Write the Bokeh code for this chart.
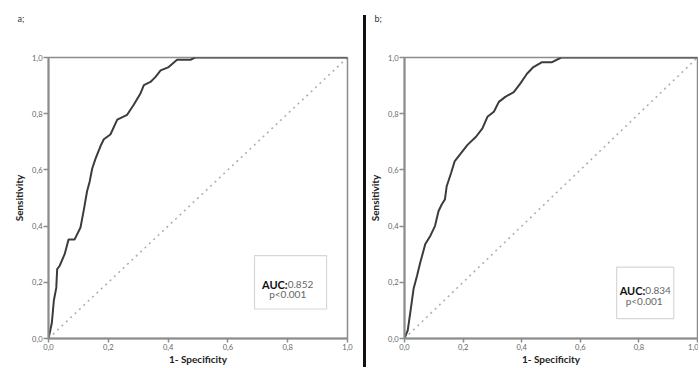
from bokeh.plotting import figure
from bokeh.layouts import row
from bokeh.models import FixedTicker, Label, BoxAnnotation, Div, Range1d, Title
from bokeh.embed import file_html
from bokeh.resources import INLINE

# ---- data ----
FPR_A = [0, 0.011, 0.018, 0.026, 0.029, 0.037, 0.054, 0.067, 0.087, 0.107, 0.118,
         0.129, 0.138, 0.146, 0.157, 0.174, 0.185, 0.207, 0.23, 0.263, 0.285, 0.308,
         0.319, 0.341, 0.358, 0.375, 0.402, 0.43, 0.475, 0.49, 1.0]
TPR_A = [0, 0.054, 0.136, 0.18, 0.247, 0.258, 0.3, 0.352, 0.352, 0.395, 0.457,
         0.524, 0.56, 0.604, 0.639, 0.685, 0.709, 0.726, 0.779, 0.796, 0.832, 0.873,
         0.902, 0.913, 0.931, 0.954, 0.966, 0.992, 0.992, 1.0, 1.0]

FPR_B = [0, 0.011, 0.02, 0.031, 0.043, 0.054, 0.071, 0.088, 0.104, 0.116, 0.127,
         0.138, 0.144, 0.159, 0.171, 0.193, 0.215, 0.244, 0.266, 0.283, 0.305, 0.322,
         0.344, 0.373, 0.395, 0.418, 0.44, 0.468, 0.502, 0.535, 1.0]
TPR_B = [0, 0.029, 0.094, 0.177, 0.224, 0.271, 0.336, 0.365, 0.4, 0.453, 0.477,
         0.495, 0.542, 0.589, 0.63, 0.66, 0.689, 0.718, 0.748, 0.789, 0.807, 0.842,
         0.86, 0.877, 0.907, 0.942, 0.966, 0.983, 0.983, 1.0, 1.0]

REF_LINE = [0.0, 1.0]
TICKS = [0.0, 0.2, 0.4, 0.6, 0.8, 1.0]
TICK_LABELS = ["0,0", "0,2", "0,4", "0,6", "0,8", "1,0"]

AUC_A = "0.852"
AUC_B = "0.834"
P_TEXT = "p<0.001"

FONT = "Lato"
GREY = "#8c8c8c"
H = 367


def make_panel(width, mb_left, mb_right, fpr, tpr, letter, letter_offset,
               auc, box, auc_split_x, auc_y, p_x, p_y):
    p = figure(width=width, height=H, x_range=Range1d(0, 1), y_range=Range1d(0, 1),
               output_backend="svg", toolbar_location=None,
               min_border_left=mb_left, min_border_right=mb_right,
               min_border_top=57, min_border_bottom=0)
    p.title.text = ""
    spacer = Title(text=" ", standoff=21, text_font=FONT, text_font_size="9px")
    letter_title = Title(text=letter, align="left", vertical_align="bottom",
                         offset=letter_offset, standoff=0, text_font=FONT,
                         text_font_size="9px", text_font_style="normal",
                         text_color="#333333")
    p.add_layout(spacer, "above")
    p.add_layout(letter_title, "above")

    p.grid.visible = False
    p.outline_line_color = GREY
    p.outline_line_width = 1.5
    p.background_fill_color = "white"
    p.border_fill_color = "white"

    for ax in (p.xaxis[0], p.yaxis[0]):
        ax.ticker = FixedTicker(ticks=TICKS)
        ax.major_label_overrides = dict(zip(TICKS, TICK_LABELS))
        ax.axis_line_color = GREY
        ax.axis_line_width = 2
        ax.major_tick_line_color = GREY
        ax.major_tick_line_width = 1.5
        ax.major_tick_out = 5
        ax.major_tick_in = 0
        ax.minor_tick_line_color = None
        ax.major_label_text_font = FONT
        ax.major_label_text_font_size = "7.5px"
        ax.major_label_text_color = "#666666"
        ax.major_label_standoff = 2
        ax.axis_label_text_font = FONT
        ax.axis_label_text_font_style = "bold"
        ax.axis_label_text_font_size = "10px"
        ax.axis_label_text_color = "#222222"
    p.xaxis.axis_label = "1- Specificity"
    p.yaxis.axis_label = "Sensitivity"
    p.xaxis.major_tick_out = 4
    p.xaxis.major_label_standoff = 1
    p.xaxis.axis_label_standoff = 0
    p.yaxis.major_label_standoff = 1
    p.yaxis.axis_label_standoff = 4
    p.yaxis.major_label_orientation = "horizontal"

    p.line(REF_LINE, REF_LINE, line_color="#b0b0b0", line_width=1.6, line_dash="2 4")
    p.line(fpr, tpr, line_color="#3c3c3c", line_width=2)

    p.add_layout(BoxAnnotation(left=box[0], right=box[1], bottom=box[2], top=box[3],
                               fill_color="white", fill_alpha=1.0,
                               line_color="#7a7a7a", line_width=1.2))
    p.add_layout(Label(x=auc_split_x, y=auc_y, text="AUC:", text_align="right",
                       text_baseline="middle", text_font=FONT, text_font_style="bold",
                       text_font_size="11px", text_color="#111111"))
    p.add_layout(Label(x=auc_split_x, y=auc_y, text=auc, text_align="left",
                       text_baseline="middle", text_font=FONT,
                       text_font_size="10px", text_color="#666666"))
    p.add_layout(Label(x=p_x, y=p_y, text=P_TEXT, text_align="center",
                       text_baseline="middle", text_font=FONT,
                       text_font_size="10px", text_color="#666666"))
    return p


pa = make_panel(363, 48, 16, FPR_A, TPR_A, "a;", -31,
                AUC_A, (0.689, 0.930, 0.105, 0.295), 0.80, 0.193, 0.80, 0.157)
pb = make_panel(332, 35, 1, FPR_B, TPR_B, "b;", -30,
                AUC_B, (0.724, 0.919, 0.071, 0.254), 0.822, 0.17, 0.818, 0.134)

sep = Div(width=3, height=H - 15, styles={"background-color": "#111111"}, margin=(15, 0, 0, 0))

layout = row(pa, sep, pb, spacing=0)
open("out.html", "w").write(file_html(layout, INLINE))
